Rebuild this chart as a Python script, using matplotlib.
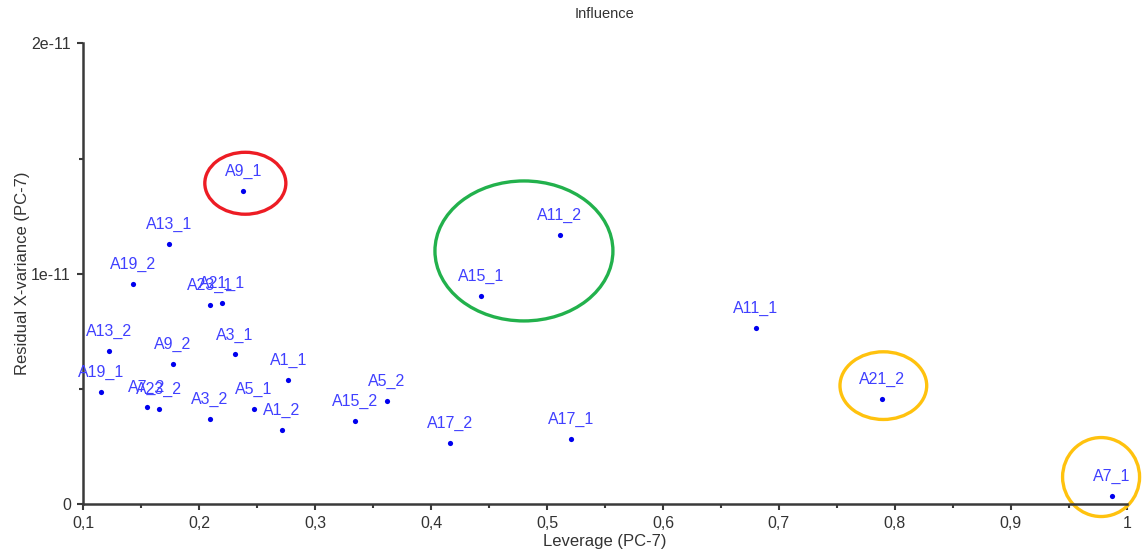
import matplotlib
matplotlib.use("Agg")
import matplotlib.pyplot as plt
from matplotlib.patches import Ellipse
from matplotlib.ticker import FuncFormatter, MultipleLocator

plt.rcParams['font.family'] = ['Liberation Sans', 'DejaVu Sans']

# Sample names, leverage and residual X-variance (in units of 1e-11)
samples = ["A1_1", "A1_2", "A3_1", "A3_2", "A5_1", "A5_2", "A7_1", "A7_2",
           "A9_1", "A9_2", "A11_1", "A11_2", "A13_1", "A13_2", "A15_1", "A15_2",
           "A17_1", "A17_2", "A19_1", "A19_2", "A21_1", "A21_2", "A23_1", "A23_2"]
leverage = [0.277, 0.271, 0.231, 0.209, 0.247, 0.362, 0.987, 0.155,
            0.238, 0.177, 0.680, 0.511, 0.174, 0.122, 0.443, 0.334,
            0.521, 0.416, 0.115, 0.143, 0.220, 0.789, 0.209, 0.165]
resid_e11 = [0.540, 0.321, 0.650, 0.368, 0.414, 0.446, 0.036, 0.423,
             1.360, 0.609, 0.766, 1.167, 1.129, 0.664, 0.903, 0.362,
             0.282, 0.266, 0.486, 0.957, 0.873, 0.455, 0.866, 0.413]
SCALE = 1e-11
resid = [v * SCALE for v in resid_e11]

# Highlight rings: (centre leverage, centre variance/1e-11, width, height/1e-11, colour)
rings = [
    (0.2398, 1.393, 0.0699, 0.269, "#ed1c24"),
    (0.4801, 1.099, 0.1535, 0.608, "#22b14c"),
    (0.7901, 0.514, 0.0748, 0.294, "#ffc20e"),
    (0.9779, 0.117, 0.0664, 0.343, "#ffc20e"),
]

fig = plt.figure(figsize=(11.42, 5.52), dpi=100)
ax = fig.add_axes([0.0729, 0.0870, 0.9137, 0.8342])

ax.scatter(leverage, resid, s=14, color="#0000ee", zorder=3, linewidths=0)
for name, x, y in zip(samples, leverage, resid):
    ax.annotate(name, (x, y), xytext=(0, 8.5), textcoords="offset points",
                ha="center", va="bottom", fontsize=11.5, color="#4040ff", zorder=4)

for cx, cy, w, h, c in rings:
    ax.add_patch(Ellipse((cx, cy * SCALE), w, h * SCALE, fill=False,
                         edgecolor=c, linewidth=2.4, zorder=2, clip_on=False))

ax.set_xlim(0.1, 1.0)
ax.set_ylim(0, 2 * SCALE)

ax.xaxis.set_major_locator(MultipleLocator(0.1))
ax.xaxis.set_minor_locator(MultipleLocator(0.05))
ax.yaxis.set_major_locator(MultipleLocator(1 * SCALE))
ax.yaxis.set_minor_locator(MultipleLocator(0.5 * SCALE))


def fmt_x(v, _):
    if abs(v - round(v)) < 1e-9:
        return f"{int(round(v))}"
    return f"{v:.1f}".replace(".", ",")


def fmt_y(v, _):
    n = round(v / SCALE)
    return "0" if n == 0 else f"{n}e-11"


ax.xaxis.set_major_formatter(FuncFormatter(fmt_x))
ax.yaxis.set_major_formatter(FuncFormatter(fmt_y))

for side in ("top", "right"):
    ax.spines[side].set_visible(False)
for side in ("left", "bottom"):
    ax.spines[side].set_color("#3a3a3a")
    ax.spines[side].set_linewidth(1.8)

ax.tick_params(which="both", direction="out", color="#3a3a3a", width=1.5,
               labelsize=11.5, labelcolor="#333333")
ax.tick_params(which="major", length=4, pad=5)
ax.tick_params(which="minor", length=3)

ax.set_title("Influence", fontsize=10.5, color="#333333", pad=18)
ax.set_xlabel("Leverage (PC-7)", fontsize=12, color="#333333", labelpad=2)
ax.set_ylabel("Residual X-variance (PC-7)", fontsize=12, color="#333333", labelpad=1)

fig.savefig("out.png", dpi=100, facecolor="white")
